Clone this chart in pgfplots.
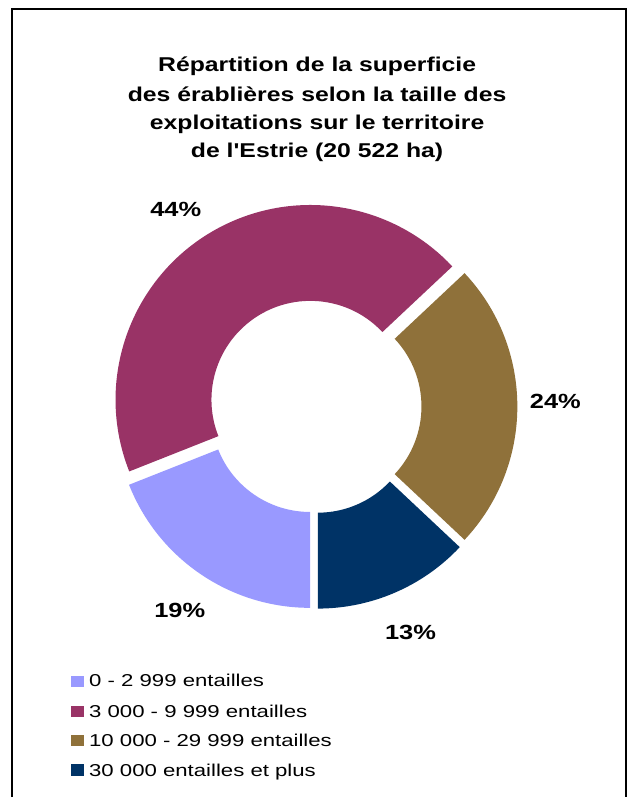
\documentclass[border=0pt]{standalone}
\usepackage{fontspec}
\setmainfont[FakeStretch=1.24, Ligatures=TeXOff]{Liberation Sans}
\newfontfamily\legfont[FakeStretch=1.29]{Liberation Sans}
\usepackage{pgfplots}
\pgfplotsset{compat=1.18}
\usetikzlibrary{calc}
\definecolor{c1}{HTML}{9999FF}
\definecolor{c2}{HTML}{993366}
\definecolor{c3}{HTML}{8F713A}
\definecolor{c4}{HTML}{003366}
% #1 cumulative start (percent), #2 share (percent), #3 colour
\newcommand{\donutslice}[3]{%
  \fill[#3] ($(axis cs:315,391)+({270-3.6*(#1+#2/2)}:6pt)+({270-3.6*(#1)}:146.25pt)$)
    arc[start angle={270-3.6*(#1)}, end angle={270-3.6*(#1+#2)}, radius=146.25pt]
    -- ($(axis cs:315,391)+({270-3.6*(#1+#2/2)}:6pt)+({270-3.6*(#1+#2)}:74.25pt)$)
    arc[start angle={270-3.6*(#1+#2)}, end angle={270-3.6*(#1)}, radius=74.25pt]
    -- cycle;}
\begin{document}
\begin{tikzpicture}
\begin{axis}[x=0.75pt, y=0.75pt, xmin=0, xmax=629, ymin=0, ymax=798,
  hide axis, clip=false]
\addplot[draw=none] coordinates {(0,0) (629,798)};
\path[fill=white] (axis cs:0,0) rectangle (axis cs:629,798);
\draw[line width=1.5pt] (axis cs:12,0) -- (axis cs:12,789) -- (axis cs:627,789) -- (axis cs:627,0);
% title
\node[anchor=base, font=\bfseries\fontsize{15}{18}\selectfont, inner sep=0] at (axis cs:317.5,726) {Répartition de la superficie};
\node[anchor=base, font=\bfseries\fontsize{15}{18}\selectfont, inner sep=0] at (axis cs:317.5,696) {des érablières selon la taille des};
\node[anchor=base, font=\bfseries\fontsize{15}{18}\selectfont, inner sep=0] at (axis cs:317.5,668) {exploitations sur le territoire};
\node[anchor=base, font=\bfseries\fontsize{15}{18}\selectfont, inner sep=0] at (axis cs:317.5,640) {de l'Estrie (20 522 ha)};
% donut: cumulative start, share
\donutslice{0}{19}{c1}
\donutslice{19}{44}{c2}
\donutslice{63}{24}{c3}
\donutslice{87}{13}{c4}
% labels
\node[font=\bfseries\fontsize{15.4}{18}\selectfont, inner sep=0] at (axis cs:176,588) {44\%};
\node[font=\bfseries\fontsize{15.4}{18}\selectfont, inner sep=0] at (axis cs:556,396) {24\%};
\node[font=\bfseries\fontsize{15.4}{18}\selectfont, inner sep=0] at (axis cs:411,165) {13\%};
\node[font=\bfseries\fontsize{15.4}{18}\selectfont, inner sep=0] at (axis cs:180,187) {19\%};
% legend
\fill[c1] (axis cs:71,110.3) rectangle (axis cs:84,121.3);
\fill[c2] (axis cs:71,79.7) rectangle (axis cs:84,91.3);
\fill[c3] (axis cs:71,51) rectangle (axis cs:84,62);
\fill[c4] (axis cs:71,21.3) rectangle (axis cs:84,33);
\node[anchor=base west, font=\legfont\fontsize{12.9}{15}\selectfont, inner sep=0] at (axis cs:89,111) {0 - 2 999 entailles};
\node[anchor=base west, font=\legfont\fontsize{12.9}{15}\selectfont, inner sep=0] at (axis cs:89,80) {3 000 - 9 999 entailles};
\node[anchor=base west, font=\legfont\fontsize{12.9}{15}\selectfont, inner sep=0] at (axis cs:89,51) {10 000 - 29 999 entailles};
\node[anchor=base west, font=\legfont\fontsize{12.9}{15}\selectfont, inner sep=0] at (axis cs:89,21) {30 000 entailles et plus};
\end{axis}
\end{tikzpicture}
\end{document}
